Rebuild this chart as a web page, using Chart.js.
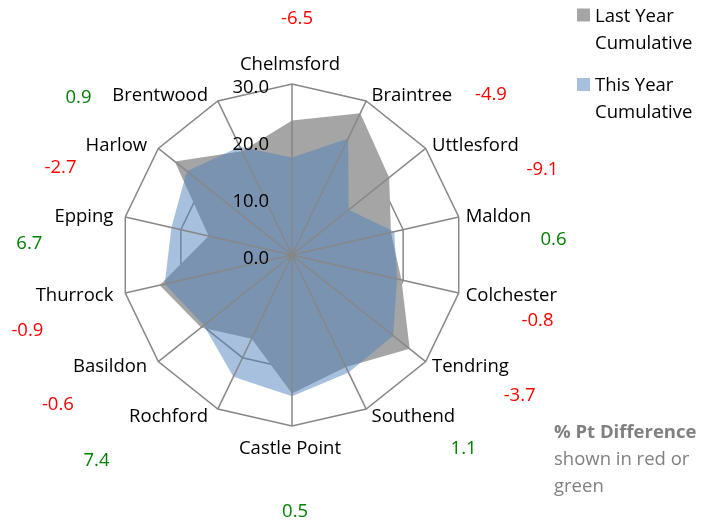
<!DOCTYPE html>
<html>
<head>
<meta charset="utf-8">
<script src="https://cdn.jsdelivr.net/npm/chart.js@4/dist/chart.umd.min.js"></script>
<style>
  body { margin: 0; background: #fff; }
  #wrap { width: 715px; height: 524px; }
</style>
</head>
<body>
<div id="wrap"><canvas id="radarChart" width="715" height="524"></canvas></div>
<script>
// Districts, clockwise from the top
const categories = ['Chelmsford', 'Braintree', 'Uttlesford', 'Maldon', 'Colchester', 'Tendring', 'Southend',
    'Castle Point', 'Rochford', 'Basildon', 'Thurrock', 'Epping', 'Harlow', 'Brentwood'];

// Cumulative values
const lastYear = [23.6, 27.6, 21.8, 17.8, 19.7, 26.4, 21.8, 24.3, 16.3, 20.4, 23.8, 15.0, 26.3, 20.2];
const thisYear = [17.1, 22.7, 12.7, 18.4, 18.9, 22.7, 22.9, 24.8, 23.7, 19.8, 22.9, 21.7, 23.6, 21.1];

// % point difference shown next to each district
const pointDiff = [-6.5, -4.9, -9.1, 0.6, -0.8, -3.7, 1.1, 0.5, 7.4, -0.6, -0.9, 6.7, -2.7, 0.9];

// Axis ticks
const tickValues = [0, 10, 20, 30];

const seriesNames = [['Last Year', 'Cumulative'], ['This Year', 'Cumulative']];

// where the difference text boxes sit: [angle in degrees, distance from centre in px]
const diffLabelAt = [[-88.8, 238], [-39, 256], [-19.1, 265], [-3.7, 262], [14.8, 254], [31.5, 267], [48.3, 258],
    [89.3, 256], [133.7, 283], [147.7, 277], [164.2, 275], [182.8, 263], [201, 248], [216.6, 266]];

const greyFill = '#a5a5a5';
const blueFill = 'rgba(79, 129, 189, 0.5)';
const gridColour = '#878787';
const font = "'Open Sans', sans-serif";
const fontSize = 18.5;

const overlay = {
    id: 'overlay',
    afterDatasetsDraw(chart) {
        const r = chart.scales.r;
        const ctx = chart.ctx;
        ctx.save();

        // spokes sit on top of the filled areas
        ctx.strokeStyle = gridColour;
        ctx.lineWidth = 1.5;
        for (let i = 0; i < categories.length; i++) {
            const p = r.getPointPosition(i, r.drawingArea);
            ctx.beginPath();
            ctx.moveTo(r.xCenter, r.yCenter);
            ctx.lineTo(p.x, p.y);
            ctx.stroke();
        }

        ctx.font = fontSize + 'px ' + font;
        ctx.fillStyle = '#000';
        ctx.textBaseline = 'alphabetic';

        // tick labels, left of the top spoke
        ctx.textAlign = 'right';
        r.ticks.forEach(t => {
            const p = r.getPointPosition(0, r.getDistanceFromCenterForValue(t.value));
            ctx.fillText(t.value.toFixed(1), p.x - 23, p.y + 8.5);
        });

        // district names
        for (let i = 0; i < categories.length; i++) {
            const angle = r.getIndexAngle(i) - Math.PI / 2;
            const cos = Math.cos(angle), sin = Math.sin(angle);
            const p = r.getPointPosition(i, r.drawingArea);
            if (Math.abs(cos) < 0.01) {
                ctx.textAlign = 'center';
                ctx.fillText(categories[i], p.x - 2, sin < 0 ? p.y - 14 : p.y + 28);
            } else if (cos > 0) {
                ctx.textAlign = 'left';
                ctx.fillText(categories[i], p.x + 4 + 3 * cos, p.y + 7 * sin + 6.5);
            } else {
                ctx.textAlign = 'right';
                ctx.fillText(categories[i], p.x - 8 + 4 * cos, p.y + 7 * sin + 6.5);
            }
        }

        // % point differences
        ctx.textAlign = 'center';
        pointDiff.forEach((d, i) => {
            const a = diffLabelAt[i][0] * Math.PI / 180;
            const dist = diffLabelAt[i][1];
            ctx.fillStyle = d < 0 ? '#ff0000' : '#008000';
            ctx.fillText(d.toFixed(1), r.xCenter + dist * Math.cos(a), r.yCenter + dist * Math.sin(a) + 6.5);
        });

        // legend
        const swatches = [greyFill, blueFill];
        ctx.textAlign = 'left';
        seriesNames.forEach((lines, k) => {
            const top = 8.5 + k * 69.5;
            ctx.fillStyle = swatches[k];
            ctx.fillRect(577, top, 13, 13);
            ctx.fillStyle = '#000';
            lines.forEach((line, j) => ctx.fillText(line, 595, top + 13 + j * 27));
        });

        // note
        ctx.fillStyle = '#808080';
        ctx.font = 'bold ' + fontSize + 'px ' + font;
        ctx.fillText('% Pt Difference', 554, 438);
        ctx.font = fontSize + 'px ' + font;
        ctx.fillText('shown in red or', 554, 465);
        ctx.fillText('green', 554, 492);

        ctx.restore();
    }
};

const ctx = document.getElementById('radarChart').getContext('2d');

new Chart(ctx, {
    type: 'radar',
    data: {
        labels: categories,
        datasets: [{
            label: 'Last Year Cumulative',
            data: lastYear,
            backgroundColor: greyFill,
            borderWidth: 0,
            pointRadius: 0,
            fill: true,
            order: 1
        }, {
            label: 'This Year Cumulative',
            data: thisYear,
            backgroundColor: blueFill,
            borderWidth: 0,
            pointRadius: 0,
            fill: true,
            order: 0
        }]
    },
    options: {
        responsive: false,
        animation: false,
        devicePixelRatio: 1,
        layout: { padding: { left: 121, right: 252, top: 84, bottom: 98 } },
        plugins: {
            legend: { display: false },
            tooltip: { enabled: false }
        },
        scales: {
            r: {
                min: 0,
                max: 30,
                ticks: { display: false, stepSize: 10 },
                afterBuildTicks: scale => { scale.ticks = tickValues.map(v => ({ value: v })); },
                grid: { color: gridColour, lineWidth: 1.5 },
                angleLines: { display: false },
                pointLabels: { display: false }
            }
        }
    },
    plugins: [overlay]
});
</script>
</body>
</html>
